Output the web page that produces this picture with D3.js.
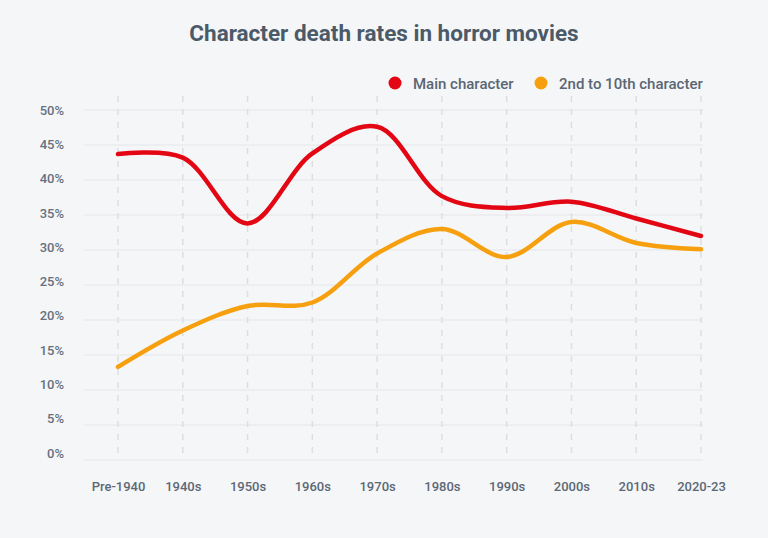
<!DOCTYPE html>
<html>
<head>
<meta charset="utf-8">
<script src="https://cdn.jsdelivr.net/npm/d3@7"></script>
<style>
html,body{margin:0;padding:0;background:#f5f6f8;}
svg{display:block;font-family:Roboto, "Noto Sans", sans-serif;}
</style>
</head>
<body>
<svg id="chart" width="768" height="538"></svg>
<script>
const categories = ["Pre-1940","1940s","1950s","1960s","1970s","1980s","1990s","2000s","2010s","2020-23"];
const mainCharacter = [43.7, 43.2, 33.8, 43.8, 47.6, 37.7, 36.0, 36.9, 34.5, 32.0];
const otherCharacters = [13.3, 18.5, 22.0, 22.5, 29.5, 33.0, 29.0, 34.0, 31.0, 30.1];
const yTicks = [0,5,10,15,20,25,30,35,40,45,50];
const seriesNames = ["Main character","2nd to 10th character"];
const seriesColors = ["#e30613","#f7a00f"];

const svg = d3.select("#chart");
svg.append("rect").attr("width",768).attr("height",538).attr("fill","#f5f6f8");

const x = d3.scalePoint().domain(categories).range([118, 701]);
const y = d3.scaleLinear().domain([0,50]).range([460, 110]);
// tick labels in the reference sit on a slightly tighter spacing than the grid
const yLabel = d3.scaleLinear().domain([0,50]).range([453, 110]);

// horizontal grid
svg.append("g").selectAll("line").data(yTicks).join("line")
  .attr("x1",84).attr("x2",703)
  .attr("y1",d=>y(d)).attr("y2",d=>y(d))
  .attr("stroke","#e4e6e9").attr("stroke-width",1);

// vertical dashed grid
svg.append("g").selectAll("line").data(categories).join("line")
  .attr("x1",d=>x(d)).attr("x2",d=>x(d))
  .attr("y1",96).attr("y2",460)
  .attr("stroke","#dcdee1").attr("stroke-width",1.5)
  .attr("stroke-dasharray","6,7");

// y axis labels
const yAxis = d3.axisLeft(yLabel).tickValues(yTicks).tickFormat(d=>d+"%").tickSize(0).tickPadding(0);
const gy = svg.append("g").attr("transform","translate(64,0)").call(yAxis);
gy.select(".domain").remove();
gy.selectAll("text").attr("fill","#66717e").style("font-size","13px").style("font-weight","500").style("font-family","Roboto, sans-serif");

// x axis labels
const xAxis = d3.axisBottom(x).tickSize(0).tickPadding(0);
const gx = svg.append("g").attr("transform","translate(0,482)").call(xAxis);
gx.select(".domain").remove();
gx.selectAll("text").attr("fill","#5c6875").style("font-size","13px").style("font-weight","500").style("font-family","Roboto, sans-serif");

// lines
const line = d3.line().x((d,i)=>x(categories[i])).y(d=>y(d)).curve(d3.curveCatmullRom.alpha(0.5));
[otherCharacters, mainCharacter].forEach((data,k)=>{
  const idx = k===0 ? 1 : 0;
  svg.append("path").datum(data).attr("d",line)
    .attr("fill","none").attr("stroke",seriesColors[idx]).attr("stroke-width",4.5)
    .attr("stroke-linecap","round").attr("stroke-linejoin","round");
});

// title
svg.append("text").attr("x",384).attr("y",41).attr("text-anchor","middle")
  .attr("fill","#4b5a69").style("font-size","22.5px").style("font-weight","700")
  .text("Character death rates in horror movies");

// legend
const legendX = [395, 541];
seriesNames.forEach((n,i)=>{
  svg.append("circle").attr("cx",legendX[i]).attr("cy",83).attr("r",6.5).attr("fill",seriesColors[i]);
  svg.append("text").attr("x",legendX[i]+18).attr("y",88.5).attr("fill","#5a6673")
    .style("font-size","15px").style("font-weight","500").text(n);
});
</script>
</body>
</html>
